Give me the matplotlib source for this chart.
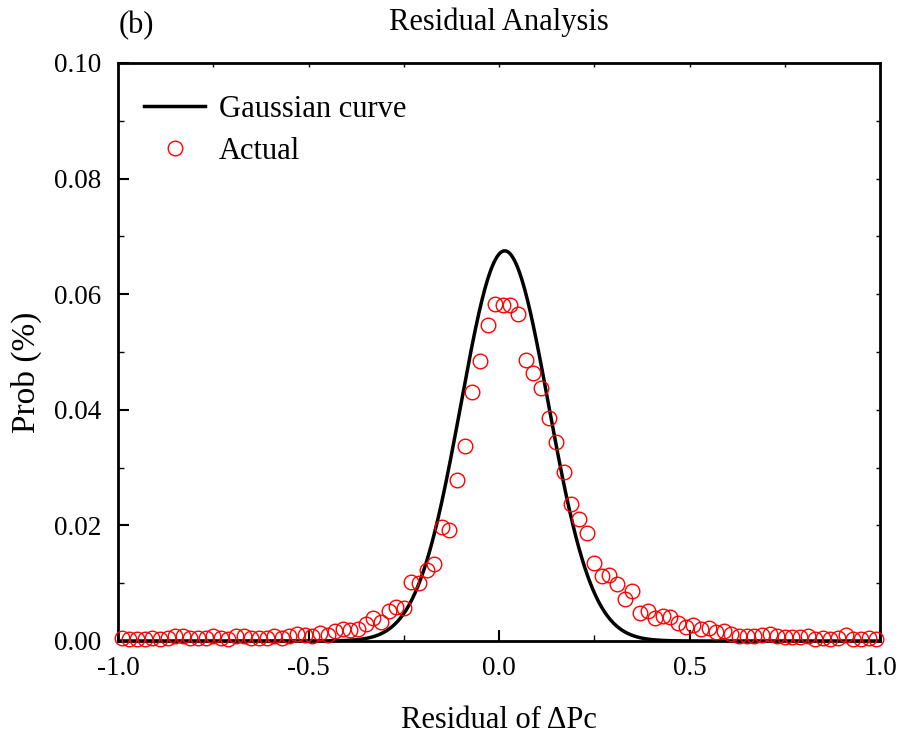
import numpy as np
import matplotlib
matplotlib.use("Agg")
import matplotlib.pyplot as plt
from matplotlib.ticker import MultipleLocator, FormatStrFormatter

plt.rcParams['font.family'] = ['Liberation Serif', 'DejaVu Serif']
plt.rcParams['mathtext.fontset'] = 'stix'

# ---- data ----
bin_start = -0.99
bin_width = 0.02
actual_prob = [
    0.0005, 0.0003, 0.0003, 0.0003, 0.0005, 0.0003, 0.0005, 0.0008, 0.0008, 0.0005,
    0.0006, 0.0006, 0.0008, 0.0006, 0.0004, 0.0008, 0.0008, 0.0006, 0.0006, 0.0006,
    0.0009, 0.0006, 0.0008, 0.0012, 0.0010, 0.0008, 0.0014, 0.0010, 0.0017, 0.0020,
    0.0019, 0.0020, 0.0029, 0.0039, 0.0033, 0.0052, 0.0059, 0.0057, 0.0102, 0.0100,
    0.0122, 0.0133, 0.0198, 0.0192, 0.0278, 0.0337, 0.0431, 0.0484, 0.0547, 0.0583,
    0.0581, 0.0581, 0.0566, 0.0487, 0.0464, 0.0438, 0.0386, 0.0344, 0.0292, 0.0237,
    0.0211, 0.0186, 0.0135, 0.0113, 0.0114, 0.0099, 0.0073, 0.0087, 0.0048, 0.0052,
    0.0039, 0.0043, 0.0042, 0.0032, 0.0025, 0.0027, 0.0020, 0.0022, 0.0015, 0.0018,
    0.0012, 0.0008, 0.0008, 0.0008, 0.0010, 0.0012, 0.0009, 0.0007, 0.0007, 0.0007,
    0.0008, 0.0004, 0.0006, 0.0004, 0.0005, 0.0010, 0.0004, 0.0004, 0.0006, 0.0003,
]
actual_x = bin_start + bin_width * np.arange(len(actual_prob))

# Gaussian fit parameters
gauss_mu = 0.015
gauss_sigma = 0.115
gauss_amp = 0.0675
curve_x = np.linspace(-1.0, 1.0, 801)
curve_y = gauss_amp * np.exp(-0.5 * ((curve_x - gauss_mu) / gauss_sigma) ** 2)

# ---- figure ----
fig = plt.figure(figsize=(9, 7.35), dpi=100)
ax = fig.add_axes([118/900, 1 - 641/735, (880-118)/900, (641-63)/735])

ax.plot(curve_x, curve_y, color='black', lw=2.5, label='Gaussian curve', zorder=2)
ax.plot(actual_x, actual_prob, linestyle='none', marker='o', ms=10.5,
        mfc='none', mec='red', mew=1.0, label='Actual', zorder=3, clip_on=False)

ax.set_xlim(-1.0, 1.0)
ax.set_ylim(0.0, 0.10)
ax.xaxis.set_major_locator(MultipleLocator(0.5))
ax.xaxis.set_minor_locator(MultipleLocator(0.25))
ax.yaxis.set_major_locator(MultipleLocator(0.02))
ax.yaxis.set_minor_locator(MultipleLocator(0.01))
ax.xaxis.set_major_formatter(FormatStrFormatter('%.1f'))
ax.yaxis.set_major_formatter(FormatStrFormatter('%.2f'))

ax.tick_params(which='major', direction='in', length=8, width=1.5, labelsize=19.5)
ax.tick_params(axis='x', which='major', pad=11)
ax.tick_params(axis='y', which='major', pad=12)
ax.tick_params(which='minor', direction='in', length=4, width=1.0)
for s in ax.spines.values():
    s.set_linewidth(2.0)

# mirrored small ticks on top and right
secx = ax.secondary_xaxis('top')
secx.xaxis.set_major_locator(MultipleLocator(0.25))
secx.tick_params(direction='in', length=3, width=1.0, labeltop=False)
secx.spines['top'].set_visible(False)
secy = ax.secondary_yaxis('right')
secy.yaxis.set_major_locator(MultipleLocator(0.01))
secy.tick_params(direction='in', length=3, width=1.0, labelright=False)
secy.spines['right'].set_visible(False)

ax.set_xlabel('Residual of ΔPc', fontsize=22)
ax.xaxis.set_label_coords(0.5, (641 - 720) / 578, transform=ax.transAxes)
ax.xaxis.label.set_va('center')
ax.set_ylabel('Prob (%)', fontsize=24)
ax.yaxis.set_label_coords((26 - 118) / 762, (641 - 372) / 578, transform=ax.transAxes)
ax.yaxis.label.set_va('center')
ax.set_title('Residual Analysis', fontsize=22, pad=24)
fig.text(119/900, 1 - 26/735, '(b)', fontsize=22, va='center', ha='left')

leg = ax.legend(loc='upper left', bbox_to_anchor=(-0.002, 0.992), frameon=False,
                fontsize=22, handlelength=2.0, handletextpad=0.45, labelspacing=0.42)

fig.savefig('out.png', dpi=100)
